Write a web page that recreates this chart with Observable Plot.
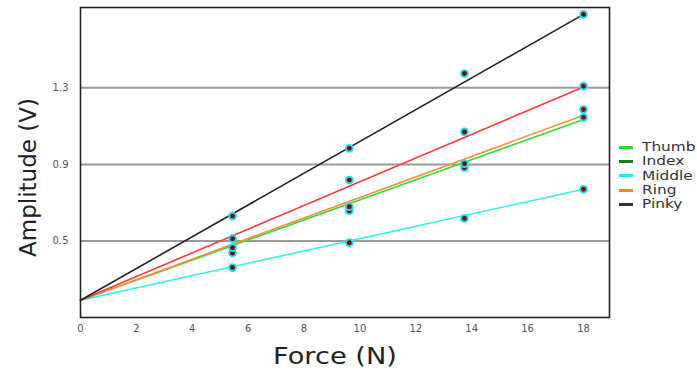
<!DOCTYPE html>
<html>
<head>
<meta charset="utf-8">
<script src="https://cdn.jsdelivr.net/npm/d3@7"></script>
<script src="https://cdn.jsdelivr.net/npm/@observablehq/plot@0.6"></script>
<style>
  html, body { margin: 0; padding: 0; background: #fff; }
  #wrap { position: relative; width: 697px; height: 371px; overflow: hidden; font-family: "DejaVu Sans", sans-serif; }
  #legend { position: absolute; left: 619px; top: 140px; font-size: 12px; color: #333; line-height: 14px; }
  #legend .row { display: flex; align-items: center; height: 14.3px; white-space: nowrap; }
  #legend .sw { width: 14px; height: 3px; margin-right: 9px; flex: none; }
  #legend .lab { display: inline-block; transform: scaleX(1.28); transform-origin: left center; }
</style>
</head>
<body>
<div id="wrap"><div id="legend"></div></div>
<script>
// Forces (N) at which each finger was measured
const forces = [5.44, 9.62, 13.74, 18.0];
// Measured amplitudes (V) per finger
const thumb  = [0.437, 0.658, 0.883, 1.146];
const index  = [0.512, 0.818, 1.070, 1.309];
const middle = [0.361, 0.491, 0.618, 0.770];
const ring   = [0.465, 0.679, 0.904, 1.187];
const pinky  = [0.630, 0.984, 1.375, 1.684];

// Fitted lines: value at F = 0 and at F = 18
const fitForces = [0, 18];
const fitThumb  = [0.19, 1.135];
const fitIndex  = [0.19, 1.305];
const fitMiddle = [0.19, 0.770];
const fitRing   = [0.19, 1.157];
const fitPinky  = [0.19, 1.684];

const fingers = ["Thumb", "Index", "Middle", "Ring", "Pinky"];
const legendColors = ["#22e022", "#1f7a1f", "#22eeee", "#ff7f2a", "#333333"];
const lineColors = {Thumb: "#33dd33", Index: "#ff3b3b", Middle: "#33f0f0", Ring: "#ff8c40", Pinky: "#222222"};

const yTicks = [0.5, 0.9, 1.3];
const xTicks = [0, 2, 4, 6, 8, 10, 12, 14, 16, 18];

const series = {Thumb: thumb, Index: index, Middle: middle, Ring: ring, Pinky: pinky};
const fits = {Thumb: fitThumb, Index: fitIndex, Middle: fitMiddle, Ring: fitRing, Pinky: fitPinky};

const points = fingers.flatMap(f => forces.map((x, i) => ({finger: f, force: x, amp: series[f][i]})));
const drawOrder = ["Middle", "Thumb", "Ring", "Index", "Pinky"];
const fitRows = drawOrder.flatMap(f => fitForces.map((x, i) => ({finger: f, force: x, amp: fits[f][i]})));

const chart = Plot.plot({
  width: 697,
  height: 371,
  marginLeft: 80,
  marginRight: 88,
  marginTop: 7,
  marginBottom: 54,
  style: {fontFamily: "DejaVu Sans, sans-serif", background: "transparent"},
  x: {domain: [0, 18.93]},
  y: {domain: [0.1, 1.72]},
  marks: [
    Plot.ruleY(yTicks, {stroke: "#9a9a9a", strokeWidth: 2}),
    Plot.axisX({ticks: xTicks, tickSize: 0, tickPadding: 7, fontSize: 10, color: "#555", label: null}),
    Plot.axisY({ticks: yTicks, tickFormat: d3.format(".1f"), tickSize: 0, tickPadding: 12, fontSize: 10, color: "#555", label: null}),
    ...drawOrder.map(f => Plot.line(fitRows.filter(d => d.finger === f), {x: "force", y: "amp", stroke: lineColors[f], strokeWidth: 1.6})),
    Plot.dot(points, {x: "force", y: "amp", r: 3.4, fill: "#7a0000", stroke: "#22dcea", strokeWidth: 1.9}),
    Plot.frame({stroke: "#222", strokeWidth: 1.6}),
    Plot.text(["Force (N)"], {frameAnchor: "bottom", dx: -10, dy: 39, fontSize: 23, fill: "#222", textAnchor: "middle", lineAnchor: "middle", className: "xlab"}),
    Plot.text(["Amplitude (V)"], {frameAnchor: "left", dx: -52, dy: 15, rotate: -90, fontSize: 23, fill: "#222", textAnchor: "middle", lineAnchor: "middle"})
  ]
});
document.getElementById("wrap").prepend(chart);
// widen the x label slightly, as in the reference
d3.select(chart).selectAll(".xlab text").attr("textLength", 124).attr("lengthAdjust", "spacingAndGlyphs");

const legend = document.getElementById("legend");
fingers.forEach((f, i) => {
  const row = document.createElement("div");
  row.className = "row";
  const sw = document.createElement("div");
  sw.className = "sw";
  sw.style.background = legendColors[i];
  const t = document.createElement("span");
  t.className = "lab";
  t.textContent = f;
  row.appendChild(sw);
  row.appendChild(t);
  legend.appendChild(row);
});
</script>
</body>
</html>
